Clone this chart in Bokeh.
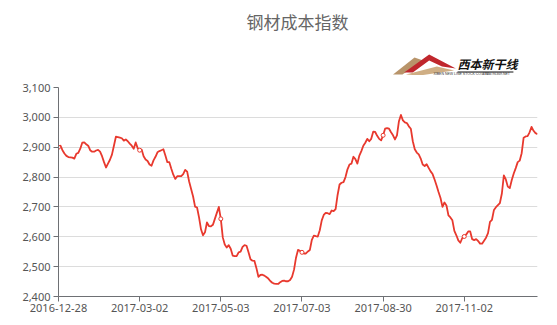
from bokeh.plotting import figure
from bokeh.models import Range1d, FixedTicker, NumeralTickFormatter, ColumnDataSource
from bokeh.layouts import column
from bokeh.core.properties import value
from bokeh.embed import file_html
from bokeh.resources import INLINE

title_text = "钢材成本指数"
tick_labels = ["2016-12-28", "2017-03-02", "2017-05-03", "2017-07-03", "2017-08-30", "2017-11-02"]
tick_index = [0, 41, 82, 123, 164, 205]
y_ticks = [2400, 2500, 2600, 2700, 2800, 2900, 3000, 3100]
cost_index = [
    2900, 2905, 2890, 2879, 2871, 2867, 2866, 2865, 2862, 2878,
    2881, 2895, 2915, 2916, 2910, 2905, 2890, 2885, 2885, 2889,
    2891, 2885, 2870, 2850, 2832, 2845, 2858, 2875, 2905, 2935,
    2934, 2932, 2930, 2922, 2926, 2920, 2912, 2905, 2895, 2916,
    2897, 2890, 2892, 2870, 2859, 2854, 2842, 2838, 2856, 2868,
    2883, 2887, 2890, 2893, 2872, 2850, 2850, 2828, 2808, 2794,
    2803, 2803, 2803, 2810, 2824, 2818, 2785, 2760, 2735, 2701,
    2698, 2665, 2625, 2605, 2615, 2648, 2636, 2635, 2640, 2660,
    2680, 2700, 2660, 2598, 2574, 2564, 2572, 2560, 2537, 2535,
    2535, 2548, 2550, 2566, 2572, 2570, 2548, 2525, 2520, 2519,
    2495, 2466, 2472, 2473, 2470, 2465, 2460, 2452, 2446, 2443,
    2442, 2442, 2448, 2452, 2453, 2451, 2451, 2455, 2466, 2490,
    2530, 2556, 2553, 2548, 2544, 2544, 2551, 2556, 2590, 2604,
    2602, 2601, 2622, 2655, 2673, 2680, 2679, 2676, 2688, 2686,
    2693, 2740, 2775, 2781, 2783, 2800, 2826, 2842, 2845, 2868,
    2860, 2845, 2872, 2887, 2905, 2915, 2928, 2920, 2928, 2952,
    2951, 2938, 2928, 2923, 2940, 2962, 2964, 2962, 2950, 2940,
    2926, 2940, 2987, 3008, 2990, 2983, 2981, 2970, 2962, 2920,
    2893, 2882, 2876, 2862, 2842, 2837, 2843, 2831, 2819, 2810,
    2792, 2772, 2750, 2730, 2700, 2715, 2705, 2672, 2665, 2655,
    2620, 2605, 2588, 2580, 2596, 2601, 2608, 2618, 2618, 2592,
    2589, 2592, 2586, 2577, 2577, 2587, 2597, 2612, 2650, 2657,
    2690, 2699, 2706, 2713, 2745, 2806, 2792, 2768, 2763, 2790,
    2812, 2830, 2850, 2855, 2880, 2932, 2936, 2937, 2950, 2968,
    2955, 2947, 2944,
]
x_idx = list(range(len(cost_index)))

LINE_RED = "#e8392e"
AXIS_COL = "#6e7074"
LABEL_COL = "#555555"
FONT = "Noto Sans"

# ---------------- header (title + logo) ----------------
head = figure(width=557, height=75, x_range=Range1d(0, 557), y_range=Range1d(75, 0),
              output_backend="svg", toolbar_location=None,
              min_border=0, min_border_left=0, min_border_right=0,
              min_border_top=0, min_border_bottom=0)
head.axis.visible = False
head.grid.visible = False
head.outline_line_color = None
head.background_fill_color = "white"
head.border_fill_color = "white"

head.text(x=[278], y=[21], text=[title_text], text_font=value("Noto Sans CJK SC"),
          text_font_size="17px", text_color="#666666", text_align="center",
          text_baseline="middle")

# logo approximation
head.patch(x=[389, 414, 424, 400], y=[74, 57, 60, 74], color="#b8946a", line_color=None)
head.patch(x=[402, 431, 462, 446, 431, 412], y=[72, 54, 68, 66, 60, 72], color="#c0272d", line_color=None)
head.patch(x=[404, 440, 460, 420], y=[74, 66, 70, 75], color="#cfae84", line_color=None)
head.text(x=[464], y=[63], text=["西本新干线"], text_font=value("Noto Sans CJK SC"),
          text_font_size="12px", text_font_style="bold italic", text_color="#111111",
          text_align="left", text_baseline="middle")
head.segment(x0=[464], y0=[71.5], x1=[529], y1=[71.5], line_color="#111111", line_width=1)
head.text(x=[436, 492], y=[73.5, 73.5], text=["XIBEN NEW LINE STOCK CO.,LTD.", "WWW.96369.NET"],
          text_font=value("Liberation Sans"), text_font_size="3.5px", text_color="#333333",
          text_align="left", text_baseline="middle")

# ---------------- main chart ----------------
p = figure(width=557, height=250, x_range=Range1d(0, len(cost_index) - 1),
           y_range=Range1d(2400, 3100),
           output_backend="svg", toolbar_location=None,
           min_border_left=58, min_border_right=20, min_border_top=12, min_border_bottom=29)
p.outline_line_color = None
p.background_fill_color = "white"
p.border_fill_color = "white"

p.xgrid.visible = False
p.ygrid.grid_line_color = "#dcdcdc"
p.ygrid.grid_line_width = 1
p.ygrid.ticker = FixedTicker(ticks=y_ticks)

p.yaxis.ticker = FixedTicker(ticks=y_ticks)
p.yaxis.formatter = NumeralTickFormatter(format="0,0")
p.xaxis.ticker = FixedTicker(ticks=tick_index)
p.xaxis.major_label_overrides = {i: lab for i, lab in zip(tick_index, tick_labels)}

for ax in (p.xaxis, p.yaxis):
    ax.axis_line_color = AXIS_COL
    ax.axis_line_width = 1
    ax.major_tick_line_color = AXIS_COL
    ax.major_tick_in = 0
    ax.major_tick_out = 5
    ax.minor_tick_line_color = None
    ax.major_label_text_font = FONT
    ax.major_label_text_font_size = "11px"
    ax.major_label_text_color = LABEL_COL
p.yaxis.major_label_standoff = 3
p.xaxis.major_label_standoff = 2

src = ColumnDataSource(dict(x=x_idx, y=cost_index))
p.line("x", "y", source=src, line_color=LINE_RED, line_width=1.8, line_join="round")
mk = ColumnDataSource(dict(x=tick_index, y=[cost_index[i] for i in tick_index]))
p.scatter("x", "y", source=mk, size=4, marker="circle", fill_color="white",
          line_color=LINE_RED, line_width=1)

layout = column(head, p, spacing=0)
open("out.html", "w").write(file_html(layout, INLINE))
